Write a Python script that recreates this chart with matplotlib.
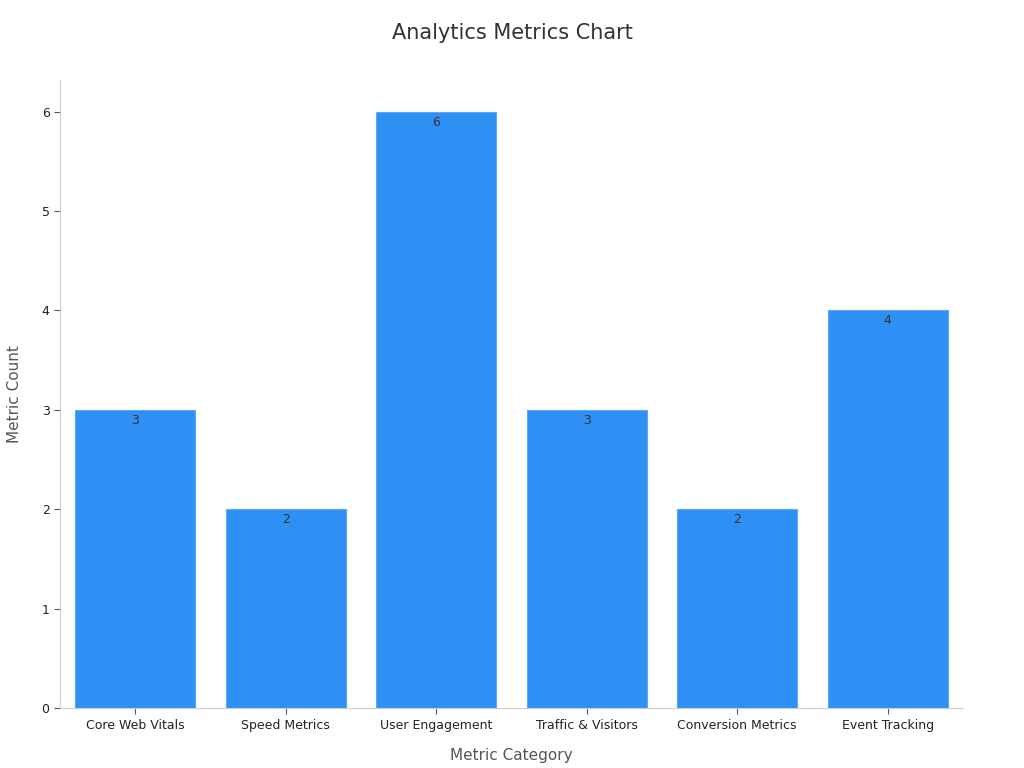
import matplotlib.pyplot as plt

categories = ["Core Web Vitals", "Speed Metrics", "User Engagement",
              "Traffic & Visitors", "Conversion Metrics", "Event Tracking"]
counts = [3, 2, 6, 3, 2, 4]

fig = plt.figure(figsize=(10.24, 7.68), dpi=100)
ax = fig.add_axes([0.0586, 0.078, 0.8818, 0.818])

bars = ax.bar(range(len(categories)), counts, width=0.8, color="#2E90F5",
              edgecolor="#5aa8f7", linewidth=0.8)
for b, v in zip(bars, counts):
    ax.text(b.get_x() + b.get_width() / 2, v - 0.04, str(v), ha="center", va="top",
            fontsize=9, color="#333333")

ax.set_xlim(-0.5, 5.5)
ax.set_ylim(0, 6.32)
ax.set_xticks(range(len(categories)))
ax.set_xticklabels(categories, fontsize=9, color="#222222")
ax.set_yticks(range(7))
ax.tick_params(axis="y", labelsize=9, colors="#222222")
ax.tick_params(axis="both", color="#555555", length=4)
for s in ["top", "right"]:
    ax.spines[s].set_visible(False)
for s in ["left", "bottom"]:
    ax.spines[s].set_color("#cccccc")

ax.set_xlabel("Metric Category", fontsize=11, color="#555555", labelpad=12)
ax.set_ylabel("Metric Count", fontsize=11, color="#555555", labelpad=14)
fig.suptitle("Analytics Metrics Chart", fontsize=15, color="#333333", y=0.97)

fig.savefig("out.png", dpi=100)
